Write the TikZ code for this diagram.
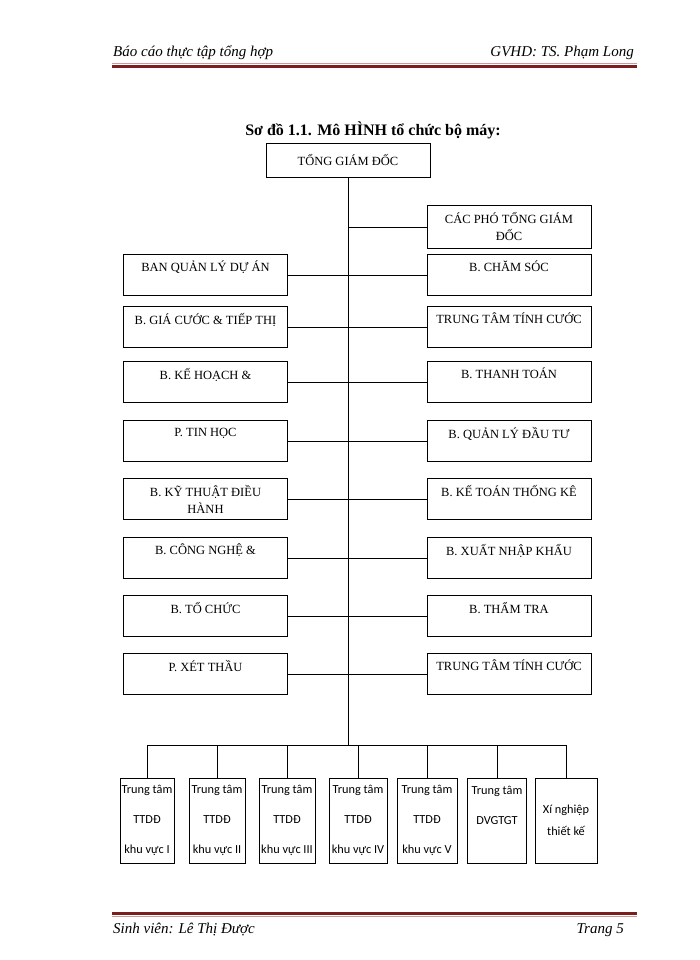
\documentclass[tikz,border=0pt]{standalone}
\usepackage{fontspec}
\setmainfont{Liberation Serif}
\newfontfamily\calfont{Carlito}
\usepackage{tikz}
\usetikzlibrary{positioning}
\definecolor{rulered}{HTML}{7A1E1E}
\definecolor{rulepink}{HTML}{C89A9A}

\begin{document}
\begin{tikzpicture}[x=1pt, y=-1pt,
  unit/.style={draw, line width=0.8pt, minimum width=164pt, minimum height=41pt,
    align=center, inner sep=2pt, font=\fontsize{12.5}{17}\selectfont},
  centre/.style={draw, line width=0.8pt, minimum height=85pt,
    align=center, inner sep=1pt, font=\calfont\fontsize{12.3}{30}\selectfont},
  pageline/.style={inner sep=0pt, font=\itshape\fontsize{15}{17}\selectfont},
  link/.style={line width=0.8pt}]

\useasboundingbox (0,0) rectangle (700,960);

% header and footer
\node [pageline, anchor=base west] (head-l) at (113,57) {Báo cáo thực tập tổng hợp};
\node [pageline, anchor=base east] (head-r) at (634,57) {GVHD: TS. Phạm Long};
\draw [rulepink, line width=1pt] (112,63.5) -- (637,63.5);
\draw [rulered, line width=3pt] (112,66.5) -- (637,66.5);
\draw [rulered, line width=3pt] (112,913.5) -- (637,913.5);
\draw [rulepink, line width=1pt] (112,916.5) -- (637,916.5);
\node [pageline, anchor=base west] (foot-l) at (113,933) {Sinh viên: Lê Thị Được};
\node [pageline, anchor=base east] (foot-r) at (624,933) {Trang 5};

% title
\node [font=\bfseries\fontsize{16}{18}\selectfont] (title) at (373,130) {Sơ đồ 1.1. Mô HÌNH tổ chức bộ máy:};

\node [unit, minimum height=34pt] (tgd) at (348,160) {TỔNG GIÁM ĐỐC};
\coordinate (bus) at (348,745);
\draw [link] (tgd.south) -- (bus);

\node [unit, minimum height=43pt] (right-0) at (509,227) {CÁC PHÓ TỔNG GIÁM\\ĐỐC};
\draw [link] (tgd.south |- right-0.west) -- (right-0.west);

\foreach \y/\l/\r [count=\i] in {
  275/{BAN QUẢN LÝ DỰ ÁN\\~}/{B. CHĂM SÓC\\~},
  327/{B. GIÁ CƯỚC \& TIẾP THỊ\\~}/{TRUNG TÂM TÍNH CƯỚC\\~},
  382/{B. KẾ HOẠCH \&\\~}/{B. THANH TOÁN\\~},
  441/{P. TIN HỌC\\~}/{B. QUẢN LÝ ĐẦU TƯ\\~},
  499/{B. KỸ THUẬT ĐIỀU\\HÀNH}/{B. KẾ TOÁN THỐNG KÊ\\~},
  558/{B. CÔNG NGHỆ \&\\~}/{B. XUẤT NHẬP KHẨU\\~},
  616/{B. TỔ CHỨC\\~}/{B. THẨM TRA\\~},
  674/{P. XÉT THẦU\\~}/{TRUNG TÂM TÍNH CƯỚC\\~}}
{
  \node [unit] (left-\i) at (205.5,\y) {\l};
  \node [unit] (right-\i) at (509,\y) {\r};
  \draw [link] (left-\i.east) -- (right-\i.west);
}

\foreach \x/\w/\t [count=\i] in {
  147/54/{Trung tâm\\TTDĐ\\khu vực I},
  217/56/{Trung tâm\\TTDĐ\\khu vực II},
  287/56/{Trung tâm\\TTDĐ\\khu vực III},
  358/58/{Trung tâm\\TTDĐ\\khu vực IV},
  427/60/{Trung tâm\\TTDĐ\\khu vực V},
  497/59/{Trung tâm\\DVGTGT\\~},
  566/62/{Xí nghiệp\\[-8pt]thiết kế}}
{
  \node [centre, minimum width=\w pt] (unit-\i) at (\x,820.5) {\t};
  \draw [link] (bus -| unit-\i.north) -- (unit-\i.north);
}

\draw [link] (bus -| unit-1.north) -- (bus -| unit-7.north);
\end{tikzpicture}
\end{document}
